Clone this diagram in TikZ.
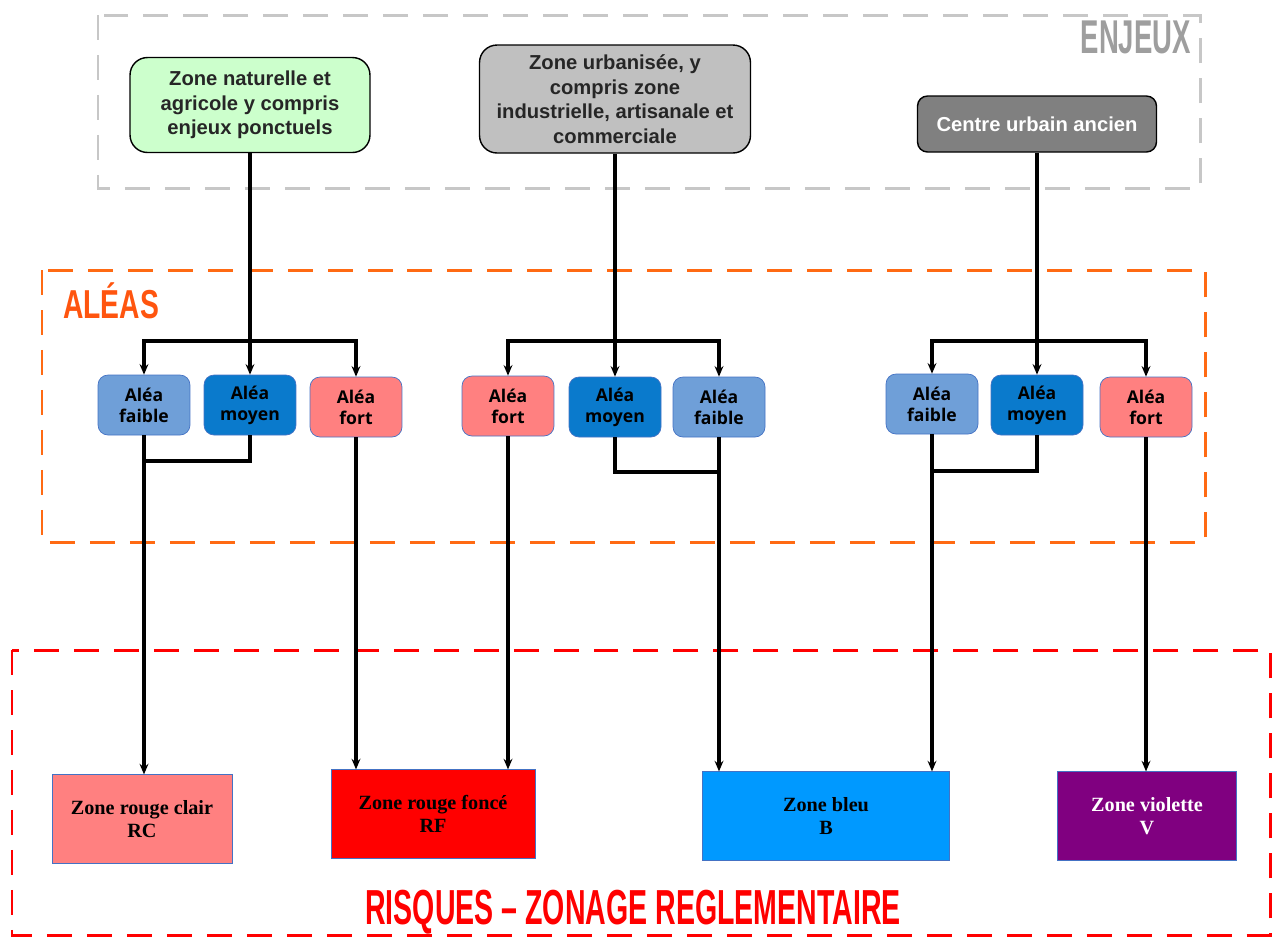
\documentclass[tikz,border=0pt]{standalone}
\usepackage{fontspec}
\usepackage{graphicx}
\setmainfont{Liberation Serif}
\newfontfamily\arialf{Liberation Sans}
\newfontfamily\aleaf{Open Sans}
\usetikzlibrary{arrows.meta}

\definecolor{vertclair}{HTML}{CCFFCC}
\definecolor{grismoyen}{HTML}{C0C0C0}
\definecolor{grisfonce}{HTML}{808080}
\definecolor{bleufaible}{HTML}{6F9FD8}
\definecolor{bleumoyen}{HTML}{0A7ACC}
\definecolor{rosefort}{HTML}{FF8080}
\definecolor{bordbleu}{HTML}{4472C4}
\definecolor{orangealea}{HTML}{FF6A13}
\definecolor{bleuzone}{HTML}{0099FF}
\definecolor{violetzone}{HTML}{800080}

\begin{document}
\begin{tikzpicture}[x=0.02cm, y=-0.02cm,
    enjeu/.style={draw=black, thick, rounded corners=0.35cm, align=center,
      font=\arialf\bfseries\fontsize{11.5}{14}\selectfont, text=black!85},
    alea/.style={draw=bordbleu, rounded corners=0.2cm, align=center,
      minimum width=1.84cm, minimum height=1.2cm,
      font=\aleaf\bfseries\fontsize{10}{12}\selectfont},
    zone/.style={draw=bordbleu, align=center, minimum height=1.77cm,
      font=\bfseries\fontsize{11.5}{12.8}\selectfont},
    link/.style={line width=1.9pt, black},
    arr/.style={link, -{Stealth[length=6pt, width=5pt]}},
    cadre/.style={line width=1.7pt, dash pattern=on 0.5cm off 0.3cm}]

\useasboundingbox (0,0) rectangle (1274,938);

% cadres
\draw[cadre, black!22] (98,15) rectangle (1200,188);
\draw[cadre, orangealea] (42,270) rectangle (1205,542);
\draw[cadre, red] (12,650) rectangle (1270,935);

\node[anchor=east, text=black!38] (tenjeux) at (1197,37)
  {\scalebox{0.58}[1]{\arialf\bfseries\fontsize{27}{30}\selectfont ENJEUX}};
\node[anchor=west, text=orangealea!80!red] (taleas) at (57,301)
  {\scalebox{0.7}[1]{\arialf\bfseries\fontsize{23}{26}\selectfont ALÉAS}};
\node[text=red] (trisques) at (633,912)
  {\scalebox{0.58}[1]{\arialf\bfseries\fontsize{28}{30}\selectfont RISQUES – ZONAGE REGLEMENTAIRE}};

% enjeux
\node[enjeu, fill=vertclair, minimum width=4.8cm, minimum height=1.9cm] (z1) at (250,105)
  {Zone naturelle et\\agricole y compris\\enjeux ponctuels};
\node[enjeu, fill=grismoyen, minimum width=5.42cm, minimum height=2.16cm] (z2) at (615,99)
  {Zone urbanisée, y\\compris zone\\industrielle, artisanale et\\commerciale};
\node[enjeu, fill=grisfonce, text=white, minimum width=4.78cm, minimum height=1.12cm,
  rounded corners=0.2cm] (z3) at (1037,124) {Centre urbain ancien};

% aleas
\node[alea, fill=bleufaible] (fa1) at (144,405) {Aléa\\faible};
\node[alea, fill=bleumoyen] (mo1) at (250,405) {Aléa\\moyen};
\node[alea, fill=rosefort] (fo1) at (356,407) {Aléa\\fort};

\node[alea, fill=rosefort] (fo2) at (508,406) {Aléa\\fort};
\node[alea, fill=bleumoyen] (mo2) at (615,407) {Aléa\\moyen};
\node[alea, fill=bleufaible] (fa2) at (719,407) {Aléa\\faible};

\node[alea, fill=bleufaible] (fa3) at (932,404) {Aléa\\faible};
\node[alea, fill=bleumoyen] (mo3) at (1037,405) {Aléa\\moyen};
\node[alea, fill=rosefort] (fo3) at (1146,407) {Aléa\\fort};

% zones reglementaires
\node[zone, fill=rosefort, minimum width=3.6cm] (rc) at (142,819) {Zone rouge clair\\RC};
\node[zone, fill=red, minimum width=4.08cm] (rf) at (433,814) {Zone rouge foncé\\RF};
\node[zone, fill=bleuzone, minimum width=4.94cm] (bl) at (826,816) {Zone bleu\\B};
\node[zone, fill=violetzone, text=white, minimum width=3.58cm] (vi) at (1147,816) {Zone violette\\V};

% branchements
\coordinate (b1) at (250,341);
\coordinate (b2) at (615,341);
\coordinate (b3) at (1037,341);
\draw[link] (z1.south) -- (b1);
\draw[link] (z2.south) -- (b2);
\draw[link] (z3.south) -- (b3);
\draw[arr] (b1) -| (fa1.north);
\draw[arr] (b1) -- (mo1.north);
\draw[arr] (b1) -| (fo1.north);
\draw[arr] (b2) -| (fo2.north);
\draw[arr] (b2) -- (mo2.north);
\draw[arr] (b2) -| (fa2.north);
\draw[arr] (b3) -| (fa3.north);
\draw[arr] (b3) -- (mo3.north);
\draw[arr] (b3) -| (fo3.north);

% vers les zones
\coordinate (j1) at (144,461);
\coordinate (j2) at (719,472);
\coordinate (j3) at (932,471);
\draw[link] (mo1.south) |- (j1);
\draw[link] (mo2.south) |- (j2);
\draw[link] (mo3.south) |- (j3);
\draw[arr] (fa1.south) -- (fa1.south |- rc.north);
\draw[arr] (fo1.south) -- (fo1.south |- rf.north);
\draw[arr] (fo2.south) -- (fo2.south |- rf.north);
\draw[arr] (fa2.south) -- (fa2.south |- bl.north);
\draw[arr] (fa3.south) -- (fa3.south |- bl.north);
\draw[arr] (fo3.south) -- (fo3.south |- vi.north);
\end{tikzpicture}
\end{document}
